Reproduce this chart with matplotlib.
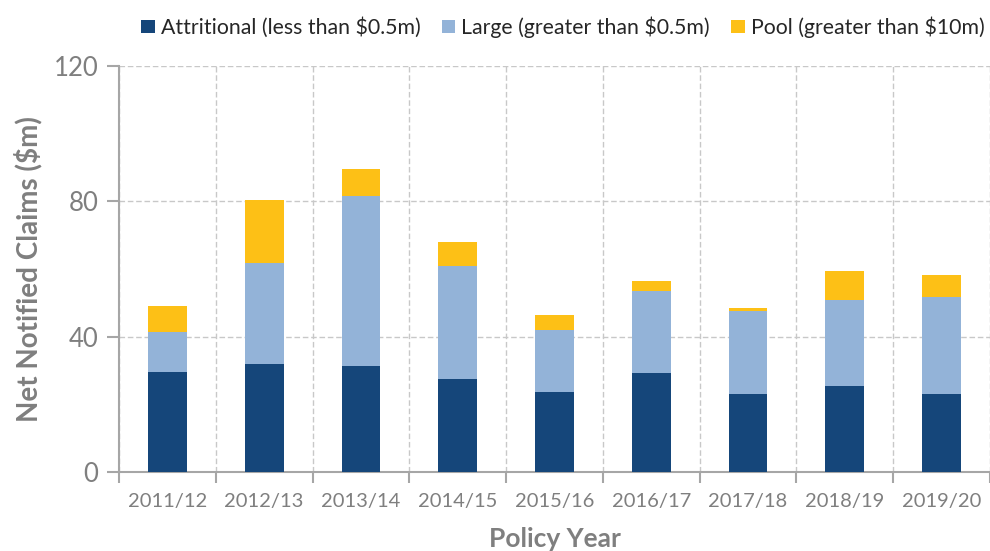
import numpy as np
import matplotlib.pyplot as plt

years = ['2011/12', '2012/13', '2013/14', '2014/15', '2015/16',
         '2016/17', '2017/18', '2018/19', '2019/20']
# stacked totals, converted to segments below
attritional = [29.6, 31.9, 31.4, 27.4, 23.6, 29.2, 23.2, 25.5, 23.2]
large_top = [41.4, 61.8, 81.6, 60.9, 41.9, 53.6, 47.6, 50.8, 51.7]
pool_top = [49.0, 80.3, 89.5, 67.9, 46.3, 56.4, 48.5, 59.5, 58.2]

large = [t - a for t, a in zip(large_top, attritional)]
pool = [t - l for t, l in zip(pool_top, large_top)]

c_attr = '#15467a'
c_large = '#93b3d8'
c_pool = '#fdc016'
grey = '#7f7f7f'
axis_grey = '#a6a6a6'

plt.rcParams['font.family'] = ['Lato', 'DejaVu Sans']

fig = plt.figure(figsize=(9.9, 5.51), dpi=100)
ax = fig.add_axes([0.1202, 0.1434, 0.8798, 0.7366])

x = np.arange(len(years))
w = 0.4
ax.bar(x, attritional, w, color=c_attr, label='Attritional (less than $0.5m)', zorder=3)
ax.bar(x, large, w, bottom=attritional, color=c_large,
       label='Large (greater than $0.5m)', zorder=3)
ax.bar(x, pool, w, bottom=large_top, color=c_pool,
       label='Pool (greater than $10m)', zorder=3)

ax.set_xlim(-0.5, len(years) - 0.5)
ax.set_ylim(0, 120)
ax.set_yticks([0, 40, 80, 120])
ax.set_xticks(x)
ax.set_xticklabels(years)
ax.set_xticks(np.arange(-0.5, len(years), 1), minor=True)

ax.tick_params(axis='x', which='major', length=0, pad=15, labelsize=14.5, labelcolor=grey)
ax.tick_params(axis='x', which='minor', length=8, width=1.5, color=axis_grey)
ax.tick_params(axis='y', length=9, width=1.5, color=axis_grey, pad=6,
               labelsize=18.5, labelcolor=grey)

ax.grid(axis='y', which='major', linestyle=(0, (4, 2)), color='#c8c8c8', linewidth=1, zorder=0)
ax.grid(axis='x', which='minor', linestyle=(0, (4, 2)), color='#c8c8c8', linewidth=1, zorder=0)

for side in ['top', 'right']:
    ax.spines[side].set_visible(False)
for side in ['left', 'bottom']:
    ax.spines[side].set_color(axis_grey)
    ax.spines[side].set_linewidth(1.5)

ax.set_xlabel('Policy Year', fontsize=19, fontweight='bold', color=grey)
ax.set_ylabel('Net Notified Claims ($m)', fontsize=20, fontweight='bold', color=grey)
ax.xaxis.set_label_coords(0.5, -0.135)
ax.yaxis.set_label_coords(-0.088, 0.5)

fig.legend(loc='upper center', bbox_to_anchor=(0.5687, 1.005), ncol=3, frameon=False,
           fontsize=15.3, handlelength=0.62, handleheight=0.62, handletextpad=0.3,
           columnspacing=1.0, labelcolor='#262626')

fig.savefig('out.png', dpi=100)
